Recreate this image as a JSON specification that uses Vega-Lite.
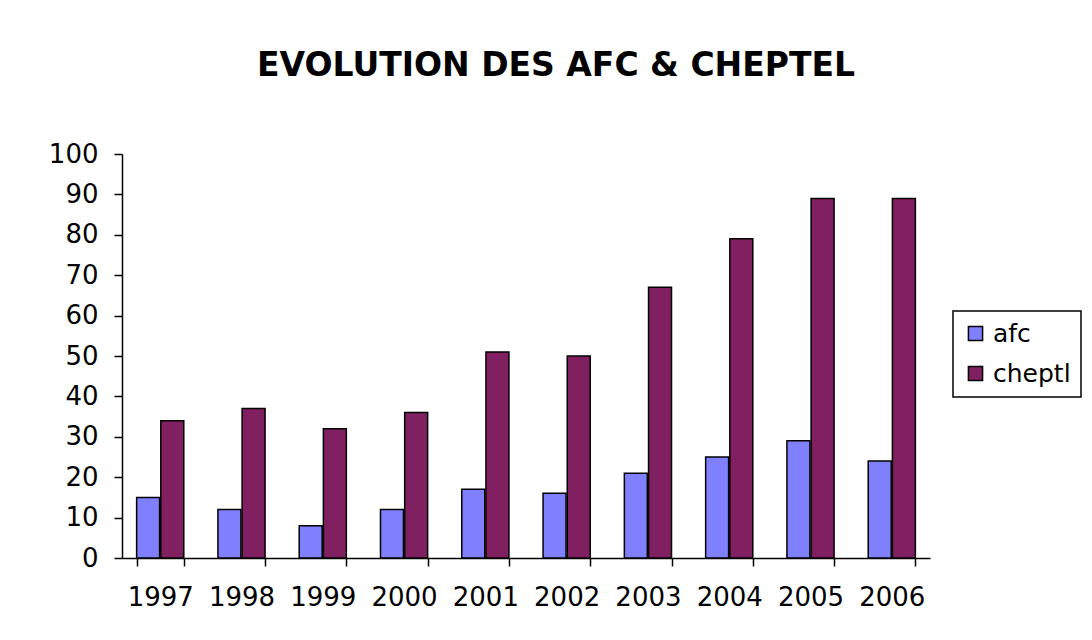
{
  "$schema": "https://vega.github.io/schema/vega-lite/v6.json",
  "autosize": "none",
  "width": 808,
  "height": 404,
  "padding": {"left": 122, "top": 154, "right": 162, "bottom": 82},
  "background": "white",
  "title": {
    "text": "EVOLUTION DES AFC & CHEPTEL",
    "font": "DejaVu Sans",
    "fontSize": 33,
    "fontWeight": "bold",
    "color": "black",
    "anchor": "middle",
    "dx": 30,
    "offset": 58
  },
  "data": {
    "values": [
      {"year": "1997", "series": "afc", "value": 15},
      {"year": "1997", "series": "cheptl", "value": 34},
      {"year": "1998", "series": "afc", "value": 12},
      {"year": "1998", "series": "cheptl", "value": 37},
      {"year": "1999", "series": "afc", "value": 8},
      {"year": "1999", "series": "cheptl", "value": 32},
      {"year": "2000", "series": "afc", "value": 12},
      {"year": "2000", "series": "cheptl", "value": 36},
      {"year": "2001", "series": "afc", "value": 17},
      {"year": "2001", "series": "cheptl", "value": 51},
      {"year": "2002", "series": "afc", "value": 16},
      {"year": "2002", "series": "cheptl", "value": 50},
      {"year": "2003", "series": "afc", "value": 21},
      {"year": "2003", "series": "cheptl", "value": 67},
      {"year": "2004", "series": "afc", "value": 25},
      {"year": "2004", "series": "cheptl", "value": 79},
      {"year": "2005", "series": "afc", "value": 29},
      {"year": "2005", "series": "cheptl", "value": 89},
      {"year": "2006", "series": "afc", "value": 24},
      {"year": "2006", "series": "cheptl", "value": 89}
    ]
  },
  "mark": {"type": "bar", "stroke": "black", "strokeWidth": 1.5},
  "encoding": {
    "x": {
      "field": "year",
      "type": "nominal",
      "scale": {"paddingInner": 0.42, "paddingOuter": 0.18},
      "axis": {
        "title": null,
        "labelAngle": 0,
        "tickBand": "extent",
        "domainColor": "black",
        "domainWidth": 1.5,
        "tickColor": "black",
        "tickWidth": 1.5,
        "tickSize": 8,
        "labelPadding": 18,
        "labelFont": "DejaVu Sans",
        "labelFontSize": 26,
        "labelColor": "black"
      }
    },
    "xOffset": {"field": "series", "type": "nominal", "scale": {"paddingInner": 0.05}},
    "y": {
      "field": "value",
      "type": "quantitative",
      "scale": {"domain": [0, 100], "nice": false},
      "axis": {
        "title": null,
        "grid": false,
        "values": [0, 10, 20, 30, 40, 50, 60, 70, 80, 90, 100],
        "domainColor": "black",
        "domainWidth": 1.5,
        "tickColor": "black",
        "tickWidth": 1.5,
        "tickSize": 8,
        "labelPadding": 16,
        "labelFont": "DejaVu Sans",
        "labelFontSize": 26,
        "labelColor": "black"
      }
    },
    "color": {
      "field": "series",
      "type": "nominal",
      "scale": {"domain": ["afc", "cheptl"], "range": ["#8080FF", "#802060"]},
      "legend": {
        "title": null,
        "orient": "none",
        "legendX": 831,
        "legendY": 157,
        "symbolType": "square",
        "symbolSize": 200,
        "symbolStrokeColor": "black",
        "symbolStrokeWidth": 1.5,
        "symbolOpacity": 1,
        "labelFont": "DejaVu Sans",
        "labelFontSize": 25,
        "labelColor": "black",
        "rowPadding": 14,
        "padding": 10,
        "strokeColor": "black",
        "fillColor": "white",
        "labelOffset": 5
      }
    }
  },
  "config": {
    "view": {"stroke": null},
    "legend": {"strokeWidth": 1.5}
  }
}
